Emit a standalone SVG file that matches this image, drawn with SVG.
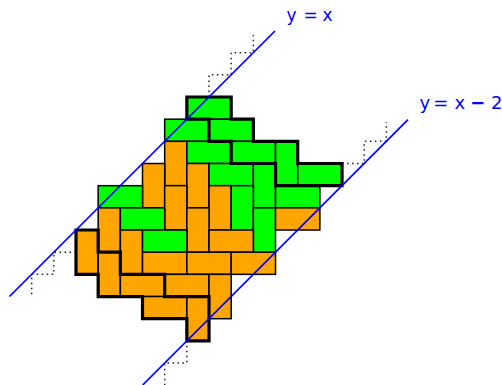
<svg xmlns="http://www.w3.org/2000/svg" width="502" height="385" viewBox="0 0 502 385">
<style>
.g{fill:#00ff00;stroke:#000;stroke-width:1.5}
.o{fill:#ffa500;stroke:#000;stroke-width:1.5}
.thick{fill:none;stroke:#000;stroke-width:3.2;stroke-linejoin:miter}
.dot{fill:none;stroke:#222;stroke-width:1.5;stroke-dasharray:1.5 3.5}
.ln{stroke:#0000ff;stroke-width:1.7;fill:none}
.lbl{font-family:"DejaVu Sans",sans-serif;fill:#0000ff}
</style>
<rect width="502" height="385" fill="#fff"/>
<g id="dotted">
<path class="dot" d="M209.02,97 V74.83 H231.19 V52.66 H253.36 V35"/>
<path class="dot" d="M342.04,163.51 H364.21 V141.34 H386.38 V122"/>
<path class="dot" d="M76,252.19 H53.83 V274.36 H31.66 V297"/>
<path class="dot" d="M186.85,340.87 V363.04 H164.68 V385"/>
</g>
<g id="tiling">
<rect class="g" x="186.85" y="97" width="44.34" height="22.17"/>
<rect class="g" x="164.68" y="119.17" width="44.34" height="22.17"/>
<rect class="g" x="209.02" y="119.17" width="44.34" height="22.17"/>
<rect class="o" x="164.68" y="141.34" width="22.17" height="44.34"/>
<rect class="g" x="186.85" y="141.34" width="44.34" height="22.17"/>
<rect class="g" x="231.19" y="141.34" width="44.34" height="22.17"/>
<rect class="g" x="275.53" y="141.34" width="22.17" height="44.34"/>
<rect class="o" x="142.51" y="163.51" width="22.17" height="44.34"/>
<rect class="o" x="186.85" y="163.51" width="22.17" height="44.34"/>
<rect class="g" x="209.02" y="163.51" width="44.34" height="22.17"/>
<rect class="g" x="253.36" y="163.51" width="22.17" height="44.34"/>
<rect class="g" x="297.7" y="163.51" width="44.34" height="22.17"/>
<rect class="g" x="98.17" y="185.68" width="44.34" height="22.17"/>
<rect class="o" x="164.68" y="185.68" width="22.17" height="44.34"/>
<rect class="o" x="209.02" y="185.68" width="22.17" height="44.34"/>
<rect class="g" x="231.19" y="185.68" width="22.17" height="44.34"/>
<rect class="g" x="275.53" y="185.68" width="44.34" height="22.17"/>
<rect class="o" x="98.17" y="207.85" width="22.17" height="44.34"/>
<rect class="g" x="120.34" y="207.85" width="44.34" height="22.17"/>
<rect class="o" x="186.85" y="207.85" width="22.17" height="44.34"/>
<rect class="g" x="253.36" y="207.85" width="22.17" height="44.34"/>
<rect class="o" x="275.53" y="207.85" width="44.34" height="22.17"/>
<rect class="o" x="76" y="230.02" width="22.17" height="44.34"/>
<rect class="o" x="120.34" y="230.02" width="22.17" height="44.34"/>
<rect class="g" x="142.51" y="230.02" width="44.34" height="22.17"/>
<rect class="o" x="209.02" y="230.02" width="44.34" height="22.17"/>
<rect class="o" x="98.17" y="252.19" width="22.17" height="44.34"/>
<rect class="o" x="142.51" y="252.19" width="44.34" height="22.17"/>
<rect class="o" x="186.85" y="252.19" width="44.34" height="22.17"/>
<rect class="o" x="231.19" y="252.19" width="44.34" height="22.17"/>
<rect class="o" x="120.34" y="274.36" width="44.34" height="22.17"/>
<rect class="o" x="164.68" y="274.36" width="44.34" height="22.17"/>
<rect class="o" x="209.02" y="274.36" width="22.17" height="44.34"/>
<rect class="o" x="142.51" y="296.53" width="44.34" height="22.17"/>
<rect class="o" x="186.85" y="296.53" width="22.17" height="44.34"/>
</g>
<g id="paths">
<path class="thick" d="M186.85,97 H231.19 V119.17 H253.36 V141.34 H297.7 V163.51 H342.04 V185.68 H275.53 V163.51 H231.19 V141.34 H209.02 V119.17 H186.85 Z"/>
<path class="thick" d="M76,230.02 H98.17 V252.19 H120.34 V274.36 H164.68 V296.53 H209.02 V340.87 H186.85 V318.7 H142.51 V296.53 H98.17 V274.36 H76 Z"/>
</g>
<g id="connectors">
<line class="ln" x1="9.5" y1="296.5" x2="275" y2="31"/>
<line class="ln" x1="142.7" y1="385" x2="408" y2="119.7"/>
</g>
<g id="labels">
<text class="lbl" font-size="17" y="21"><tspan x="286.5">y</tspan><tspan x="303.5">=</tspan><tspan x="322.5">x</tspan></text>
<text class="lbl" font-size="18" y="109"><tspan x="419.5">y</tspan><tspan x="433.2">=</tspan><tspan x="454.5">x</tspan><tspan x="470.2" font-weight="bold">−</tspan><tspan x="491">2</tspan></text>
</g>
</svg>
